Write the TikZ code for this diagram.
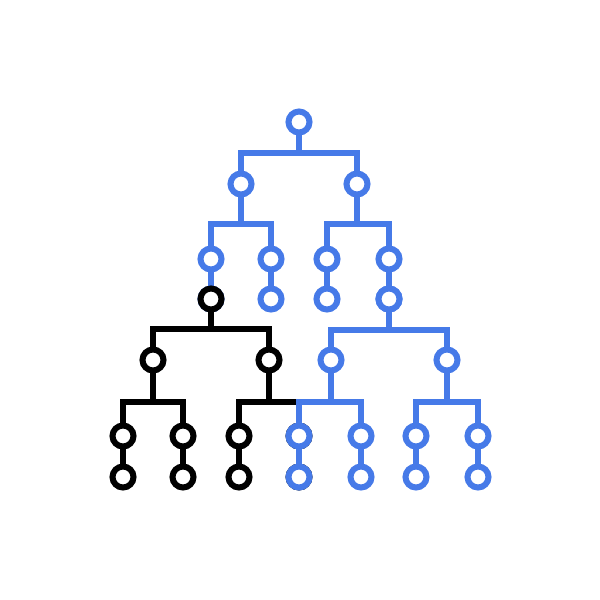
\documentclass[tikz,border=0pt]{standalone}
\begin{document}
\definecolor{tblue}{RGB}{70,122,232}
\begin{tikzpicture}[x=1pt,y=-1pt,
  edge/.style={line width=6pt,line join=miter},
  dot/.style={circle,draw,fill=white,line width=6pt,minimum size=21pt,inner sep=0pt}]
\useasboundingbox (0,0) rectangle (600,600);
% ---------- blue upper tree ----------
\begin{scope}[color=tblue]
\coordinate (r) at (299,122);
\coordinate (a) at (241,184); \coordinate (b) at (357,184);
\coordinate (a1) at (211,259); \coordinate (a2) at (271,259);
\coordinate (b1) at (327,259); \coordinate (b2) at (389,259);
\coordinate (a1c) at (211,299); \coordinate (a2c) at (271,299);
\coordinate (b1c) at (327,299); \coordinate (b2c) at (389,299);
\coordinate (bar0) at (299,153);
\coordinate (barA) at (241,224); \coordinate (barB) at (357,224);
\draw[edge] (r) -- (bar0); \draw[edge] (a) |- (bar0) -| (b);
\draw[edge] (a) -- (barA); \draw[edge] (a1) |- (barA) -| (a2);
\draw[edge] (b) -- (barB); \draw[edge] (b1) |- (barB) -| (b2);
\draw[edge] (a1) -- (a1c); \draw[edge] (a2) -- (a2c);
\draw[edge] (b1) -- (b1c); \draw[edge] (b2) -- (b2c);
\foreach \n in {r,a,b,a1,a2,b1,b2,a1c,a2c,b1c,b2c}
  \node[dot] (n\n) at (\n) {};
\end{scope}
% ---------- black tree ----------
\begin{scope}[color=black]
\coordinate (k) at (211,299);
\coordinate (k1) at (153,360); \coordinate (k2) at (269,360);
\coordinate (barK) at (211,329);
\coordinate (barK1) at (153,402); \coordinate (barK2) at (269,402);
\coordinate (k11) at (123,436); \coordinate (k12) at (183,436);
\coordinate (k21) at (239,436); \coordinate (k22) at (299,436);
\coordinate (k11c) at (123,477); \coordinate (k12c) at (183,477);
\coordinate (k21c) at (239,477); \coordinate (k22c) at (299,477);
\draw[edge] (k) -- (barK); \draw[edge] (k1) |- (barK) -| (k2);
\draw[edge] (k1) -- (barK1); \draw[edge] (k11) |- (barK1) -| (k12);
\draw[edge] (k2) -- (barK2); \draw[edge] (k21) |- (barK2) -| (k22);
\draw[edge] (k11) -- (k11c); \draw[edge] (k12) -- (k12c);
\draw[edge] (k21) -- (k21c); \draw[edge] (k22) -- (k22c);
\foreach \n in {k,k1,k2,k11,k12,k21,k22,k11c,k12c,k21c,k22c}
  \node[dot] (n\n) at (\n) {};
\end{scope}
% ---------- blue lower subtree ----------
\begin{scope}[color=tblue]
\coordinate (c1) at (331,360); \coordinate (c2) at (447,360);
\coordinate (barC) at (389,330);
\coordinate (barC1) at (331,402); \coordinate (barC2) at (447,402);
\coordinate (d1) at (299,436); \coordinate (d2) at (361,436);
\coordinate (d3) at (416,436); \coordinate (d4) at (478,436);
\coordinate (d1c) at (299,477); \coordinate (d2c) at (361,477);
\coordinate (d3c) at (416,477); \coordinate (d4c) at (478,477);
\draw[edge] (b2c) -- (barC); \draw[edge] (c1) |- (barC) -| (c2);
\draw[edge] (c1) -- (barC1); \draw[edge] (d1) |- (barC1) -| (d2);
\draw[edge] (c2) -- (barC2); \draw[edge] (d3) |- (barC2) -| (d4);
\draw[edge] (d1) -- (d1c); \draw[edge] (d2) -- (d2c);
\draw[edge] (d3) -- (d3c); \draw[edge] (d4) -- (d4c);
\foreach \n in {b2c,c1,c2,d1,d2,d3,d4,d1c,d2c,d3c,d4c}
  \node[dot] (m\n) at (\n) {};
\end{scope}
\end{tikzpicture}
\end{document}
